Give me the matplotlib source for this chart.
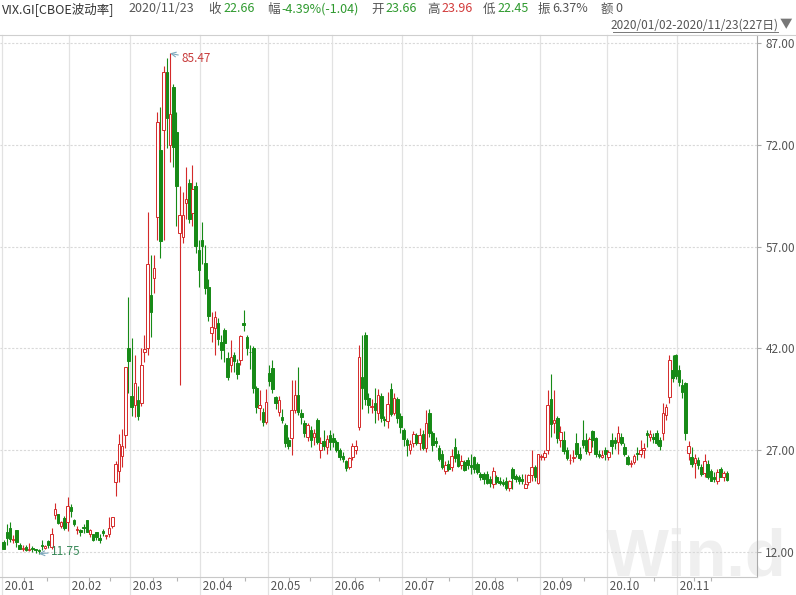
import matplotlib.pyplot as plt
from matplotlib.patches import Rectangle

plt.rcParams['font.family'] = ['Noto Sans CJK SC', 'DejaVu Sans']

# daily (open, high, low, close) of VIX.GI, one list per month
jan = [(13.5, 13.7, 12.4, 12.5), (15.0, 16.2, 13.1, 14.0), (15.5, 16.4, 13.5, 13.9),
       (13.8, 14.5, 13.4, 13.8), (15.2, 15.2, 12.8, 13.5), (13.1, 13.3, 12.5, 12.5),
       (12.5, 13.1, 12.2, 12.6), (12.8, 13.0, 12.1, 12.3), (12.3, 13.3, 12.2, 12.4),
       (12.5, 12.9, 12.0, 12.4), (12.4, 12.4, 11.8, 12.3), (12.3, 12.4, 11.75, 12.1),
       (13.1, 13.7, 12.3, 12.9), (12.6, 13.0, 12.4, 12.9), (13.6, 13.7, 12.6, 13.0),
       (12.8, 15.5, 12.5, 14.6), (17.4, 19.2, 16.8, 18.4), (17.6, 17.6, 16.1, 16.3),
       (15.9, 16.6, 15.5, 16.4), (17.0, 17.3, 15.2, 15.5), (16.4, 20.1, 15.1, 18.8)]
feb = [(18.7, 19.1, 17.2, 18.0), (16.7, 16.9, 15.8, 16.1), (15.2, 15.8, 14.7, 15.2),
       (15.2, 15.4, 14.4, 15.0), (15.7, 16.1, 14.8, 15.5), (16.7, 16.7, 14.9, 15.0),
       (14.7, 15.4, 14.2, 15.2), (14.7, 14.7, 13.6, 13.7), (14.9, 14.9, 13.7, 14.2),
       (14.1, 14.6, 13.4, 13.7), (15.1, 15.4, 14.3, 14.8), (14.4, 14.5, 13.9, 14.4),
       (14.6, 17.1, 14.2, 15.6), (15.8, 17.1, 15.6, 17.1), (22.3, 25.4, 20.3, 25.0),
       (24.0, 29.4, 22.3, 27.9), (26.1, 30.2, 24.5, 27.6), (29.3, 39.2, 27.4, 39.2),
       (42.0, 49.6, 35.4, 40.1)]
mar = [(35.0, 43.5, 32.0, 33.4), (33.7, 41.0, 31.9, 36.9), (34.4, 36.5, 31.5, 32.0),
       (34.0, 42.0, 33.5, 39.6), (41.5, 44.0, 40.0, 41.9), (42.0, 62.1, 41.0, 54.5),
       (49.8, 55.8, 43.7, 47.3), (52.4, 55.8, 50.2, 53.9), (61.4, 76.8, 58.0, 75.4),
       (71.2, 77.6, 55.3, 57.8), (74.2, 83.6, 58.0, 82.7), (82.7, 84.8, 71.5, 76.0),
       (72.0, 85.47, 69.4, 76.5), (80.5, 81.0, 68.7, 71.7), (73.9, 76.8, 60.0, 66.0),
       (59.0, 66.0, 36.6, 61.6), (58.4, 65.0, 57.5, 61.7), (63.5, 68.7, 61.0, 64.0),
       (66.4, 67.0, 60.5, 61.0), (62.0, 69.0, 60.0, 65.5), (66.0, 66.5, 56.0, 57.1),
       (56.5, 58.0, 51.0, 53.5)]
apr = [(58.0, 60.6, 54.5, 57.1), (54.6, 57.2, 50.0, 50.9), (51.0, 52.3, 46.0, 46.8),
       (44.3, 47.4, 43.0, 45.2), (45.0, 47.5, 41.0, 46.7), (45.7, 46.5, 42.5, 43.4),
       (43.0, 44.0, 40.5, 41.7), (44.7, 45.0, 40.0, 42.8), (40.6, 41.5, 37.4, 37.8),
       (39.5, 43.2, 38.5, 40.8), (41.0, 41.5, 38.5, 40.1), (39.9, 40.5, 37.5, 38.2),
       (40.3, 44.0, 39.5, 43.8), (45.7, 47.7, 44.5, 45.4), (43.7, 44.0, 41.0, 42.0),
       (41.5, 42.5, 39.0, 41.4), (42.0, 42.3, 35.5, 36.2), (36.2, 36.5, 32.5, 33.4),
       (33.2, 35.8, 31.5, 33.6), (32.6, 33.2, 30.5, 31.2), (31.2, 36.0, 30.8, 34.1)]
may = [(38.4, 39.6, 36.5, 37.2), (39.1, 40.3, 35.5, 36.0), (34.8, 35.0, 33.0, 34.0),
       (32.6, 35.0, 32.0, 34.4), (31.9, 33.0, 31.0, 31.4), (30.7, 31.0, 27.5, 28.0),
       (28.5, 29.0, 27.2, 27.6), (28.8, 37.3, 26.3, 32.9), (32.9, 37.3, 32.5, 35.1),
       (35.1, 39.3, 32.2, 32.6), (32.5, 33.0, 30.8, 31.9), (31.0, 31.5, 28.9, 29.5),
       (29.0, 31.0, 28.3, 30.7), (30.0, 30.5, 27.5, 28.5), (28.9, 30.2, 27.8, 29.5),
       (31.5, 31.8, 27.9, 28.2), (27.0, 29.0, 25.8, 28.0), (28.3, 30.0, 27.0, 27.6),
       (27.5, 29.2, 26.5, 28.6), (29.2, 30.0, 27.0, 28.2)]
jun = [(28.8, 29.5, 27.5, 28.2), (28.2, 28.5, 26.8, 27.0), (27.0, 27.3, 25.6, 26.0),
       (26.2, 26.8, 25.3, 25.7), (25.4, 25.6, 24.0, 24.4), (24.5, 26.0, 24.2, 25.8),
       (26.0, 28.0, 25.5, 27.6), (27.0, 28.5, 26.5, 27.6), (30.4, 42.5, 30.0, 40.7),
       (37.8, 44.0, 33.0, 36.1), (44.0, 44.4, 33.6, 34.6), (34.7, 35.5, 32.5, 33.7),
       (33.4, 34.5, 32.5, 33.5), (34.0, 36.2, 31.0, 32.9), (32.5, 36.0, 31.5, 35.1),
       (35.0, 35.5, 31.2, 31.8), (31.6, 32.0, 30.5, 31.4), (31.3, 35.6, 30.3, 33.8),
       (36.0, 36.9, 32.0, 32.4), (32.5, 35.5, 32.2, 34.7), (34.5, 34.8, 31.0, 31.8),
       (32.0, 32.5, 29.5, 30.4)]
jul = [(30.0, 30.3, 27.6, 28.6), (28.5, 28.8, 26.2, 27.8), (27.0, 28.5, 26.5, 27.9),
       (28.0, 29.8, 27.5, 29.4), (29.2, 29.5, 27.8, 28.1), (28.0, 30.3, 27.0, 29.3),
       (29.4, 30.0, 27.0, 27.3), (27.4, 32.9, 26.8, 31.0), (32.5, 33.0, 29.0, 29.5),
       (29.5, 29.8, 26.9, 27.8), (28.3, 29.0, 27.5, 28.0), (27.3, 27.7, 25.4, 25.7),
       (26.5, 27.0, 24.2, 24.5), (24.0, 25.4, 23.5, 24.8), (25.0, 25.5, 24.0, 24.3),
       (24.5, 27.2, 24.0, 26.1), (27.5, 28.8, 25.2, 25.8), (26.5, 27.0, 24.5, 24.7),
       (24.8, 26.3, 24.3, 25.4), (25.3, 25.5, 23.9, 24.1), (25.5, 26.0, 24.2, 24.8),
       (24.8, 26.5, 23.5, 24.5)]
aug = [(26.0, 26.2, 23.6, 24.3), (25.0, 25.2, 23.5, 23.8), (23.5, 23.8, 22.6, 23.0),
       (23.5, 23.8, 22.0, 22.7), (23.5, 24.0, 22.0, 22.2), (22.8, 23.2, 21.6, 22.1),
       (22.0, 24.6, 21.4, 24.0), (23.0, 23.3, 22.0, 22.3), (22.5, 23.0, 21.9, 22.1),
       (22.3, 22.7, 21.8, 22.0), (22.5, 23.0, 21.1, 21.4), (21.4, 22.6, 21.0, 22.5),
       (24.3, 24.5, 21.3, 22.9), (23.2, 23.5, 22.3, 22.7), (23.0, 23.4, 22.0, 22.5),
       (22.8, 23.5, 22.0, 22.4), (21.5, 23.5, 21.4, 22.0), (22.3, 23.5, 21.9, 23.3),
       (23.3, 27.0, 22.5, 24.5), (24.5, 24.8, 22.5, 23.0), (22.2, 26.5, 22.0, 26.4)]
sep = [(26.0, 26.4, 25.5, 26.1), (26.0, 27.0, 25.5, 26.6), (27.0, 35.9, 26.5, 33.6),
       (34.6, 38.3, 29.0, 30.8), (31.0, 35.9, 29.5, 31.5), (31.7, 32.0, 28.0, 28.8),
       (28.5, 30.5, 27.5, 29.7), (28.5, 29.8, 26.5, 26.9), (27.0, 27.5, 25.5, 25.9),
       (25.5, 26.5, 25.0, 25.6), (25.8, 27.0, 25.2, 26.0), (28.0, 29.5, 26.0, 26.5),
       (26.5, 27.5, 25.5, 25.8), (28.5, 31.5, 27.3, 27.8), (28.5, 29.5, 26.5, 26.9),
       (26.7, 29.0, 26.3, 28.6), (29.8, 30.0, 27.5, 28.5), (28.8, 29.0, 26.0, 26.4),
       (26.5, 27.0, 25.8, 26.2), (26.0, 27.0, 25.8, 26.3), (27.0, 27.5, 25.5, 26.4)]
oct_ = [(26.0, 27.0, 25.5, 26.7), (28.5, 29.5, 26.5, 27.6), (28.5, 29.0, 27.2, 28.0),
        (28.2, 30.5, 26.5, 29.5), (29.0, 29.5, 27.8, 28.1), (27.5, 28.0, 26.2, 26.4),
        (26.0, 26.3, 24.8, 25.0), (25.0, 25.5, 24.5, 25.1), (25.3, 26.5, 25.0, 26.1),
        (26.6, 27.5, 25.6, 26.4), (26.5, 28.5, 26.0, 27.0), (27.0, 28.0, 25.8, 27.4),
        (29.5, 30.0, 27.5, 29.2), (29.0, 30.0, 28.3, 29.4), (29.0, 29.5, 28.0, 28.7),
        (29.5, 30.0, 27.8, 28.1), (28.5, 29.0, 27.0, 27.6), (29.5, 34.0, 28.5, 32.5),
        (32.2, 33.8, 31.5, 33.4), (34.8, 41.1, 34.0, 40.3), (38.8, 41.0, 37.0, 37.6),
        (41.0, 41.2, 37.5, 38.0)]
nov = [(38.8, 39.5, 36.5, 37.1), (36.6, 37.5, 34.7, 35.6), (36.9, 37.0, 28.5, 29.6),
       (26.6, 28.3, 25.5, 27.6), (26.0, 27.5, 24.5, 24.9), (25.1, 26.5, 22.9, 25.8),
       (25.5, 26.0, 24.3, 24.8), (24.5, 25.0, 23.2, 23.5), (23.6, 26.5, 23.0, 25.4),
       (25.0, 25.5, 22.8, 23.1), (24.0, 24.2, 22.4, 22.5), (23.0, 23.8, 22.3, 22.7),
       (22.5, 24.3, 22.0, 23.8), (24.2, 24.5, 23.0, 23.1), (23.0, 23.9, 22.5, 23.7),
       (23.66, 23.96, 22.45, 22.66)]

month_data = [jan, feb, mar, apr, may, jun, jul, aug, sep, oct_, nov]
month_labels = ['20.01', '20.02', '20.03', '20.04', '20.05', '20.06',
                '20.07', '20.08', '20.09', '20.10', '20.11']
y_ticks = [12, 27, 42, 57, 72, 87]

header_items = [
    ('VIX.GI[CBOE波动率]', 2, '#333333'), ('2020/11/23', 128, '#555555'),
    ('收', 208, '#555555'), ('22.66', 223, '#2f9a2f'),
    ('幅', 267, '#555555'), ('-4.39%(-1.04)', 281, '#2f9a2f'),
    ('开', 371, '#555555'), ('23.66', 385, '#2f9a2f'),
    ('高', 427, '#555555'), ('23.96', 441, '#d23c3c'),
    ('低', 483, '#555555'), ('22.45', 497, '#2f9a2f'),
    ('振', 538, '#555555'), ('6.37%', 552, '#555555'),
    ('额', 601, '#555555'), ('0', 615, '#555555'),
]
range_text = '2020/01/02-2020/11/23(227日)'

up_color = '#d42a2a'
down_color = '#168a16'
grid_color = '#e2e2e2'

ohlc = [d for m in month_data for d in m]
starts = [0]
for m in month_data[:-1]:
    starts.append(starts[-1] + len(m))

W, H = 796, 595
fig = plt.figure(figsize=(W / 100, H / 100), dpi=100)
ax = fig.add_axes([0, 18 / H, 757 / W, 542 / H])
ax.set_xlim(-1.125, 235.4)
ax.set_ylim(8.32, 88.18)

# candles
bw = 0.8
for i, (o, h, l, c) in enumerate(ohlc):
    up = c >= o
    col = up_color if up else down_color
    lo, hi = min(o, c), max(o, c)
    ax.vlines(i, l, lo, color=col, lw=0.8, zorder=3)
    ax.vlines(i, hi, h, color=col, lw=0.8, zorder=3)
    body = max(hi - lo, 0.12)
    ax.add_patch(Rectangle((i - bw / 2, lo), bw, body,
                           facecolor='white' if up else col,
                           edgecolor=col, lw=0.7, zorder=4))

# grid
for t in y_ticks:
    ax.axhline(t, color='#d9d9d9', lw=0.8, ls=(0, (2, 1.5)), zorder=1)
xt = ax.get_xaxis_transform()
for s, lab in zip(starts, month_labels):
    ax.plot([s - 0.5, s - 0.5], [-18 / 542, 1], color=grid_color, lw=0.9,
            transform=xt, clip_on=False, zorder=1)
    ax.text(s - 0.5, -9 / 542, ' ' + lab, transform=xt, ha='left', va='center',
            fontsize=8.5, color='#555555')
# minor ticks on the date axis
minor = []
for s, m in zip(starts, month_data):
    minor += [s - 0.5 + len(m) / 3, s - 0.5 + 2 * len(m) / 3]
ax.set_xticks(minor)
ax.set_xticklabels([])
ax.tick_params(axis='x', length=3, color='#b5b5b5', width=0.8)

ax.yaxis.tick_right()
ax.set_yticks(y_ticks)
ax.set_yticklabels([f'{t:.2f}' for t in y_ticks])
ax.tick_params(axis='y', length=3, color='#aaaaaa', labelsize=8.5,
               labelcolor='#555555', pad=3)

for side in ['left', 'top']:
    ax.spines[side].set_visible(False)
ax.spines['right'].set_color('#aaaaaa')
ax.spines['bottom'].set_color('#c8c8c8')
ax.spines['right'].set_linewidth(0.8)
ax.spines['bottom'].set_linewidth(0.8)

# max / min markers
highs = [d[1] for d in ohlc]
lows = [d[2] for d in ohlc]
imax = highs.index(max(highs))
imin = lows.index(min(lows))
ax.annotate(f'{highs[imax]:.2f}', xy=(imax, highs[imax]), xytext=(11, -5),
            textcoords='offset pixels', ha='left', va='center', fontsize=8.5,
            color='#c83c3c', zorder=6,
            arrowprops=dict(arrowstyle='->', color='#7fa9bd', lw=0.8,
                            shrinkA=0, shrinkB=0))
ax.annotate(f'{lows[imin]:.2f}', xy=(imin, lows[imin]), xytext=(12, 2),
            textcoords='offset pixels', ha='left', va='center', fontsize=8.5,
            color='#3a8a5a', zorder=6,
            arrowprops=dict(arrowstyle='->', color='#7fa9bd', lw=0.8,
                            shrinkA=0, shrinkB=0))

# watermark
ax.text(606 / W, 6 / H, 'Win.d', transform=fig.transFigure, fontsize=48,
        fontweight='bold', family='Liberation Sans', color='#efefef',
        ha='left', va='bottom', zorder=0, clip_on=False)

# header
for txt, x, col in header_items:
    fig.text(x / W, 1 - 9 / H, txt, ha='left', va='center', fontsize=9, color=col)
fig.text(778 / W, 1 - 25 / H, range_text, ha='right', va='center',
         fontsize=8.5, color='#555555')
fig.add_artist(plt.Line2D([613 / W, 778 / W], [1 - 31.5 / H, 1 - 31.5 / H],
                          color='#777777', lw=0.7))
fig.text(780 / W, 1 - 25 / H, '▼', ha='left', va='center', fontsize=9,
         color='#777777')
fig.add_artist(plt.Line2D([0, 1], [1 - 35 / H, 1 - 35 / H],
                          color='#cfcfcf', lw=0.8))

fig.savefig('out.png', dpi=100)
